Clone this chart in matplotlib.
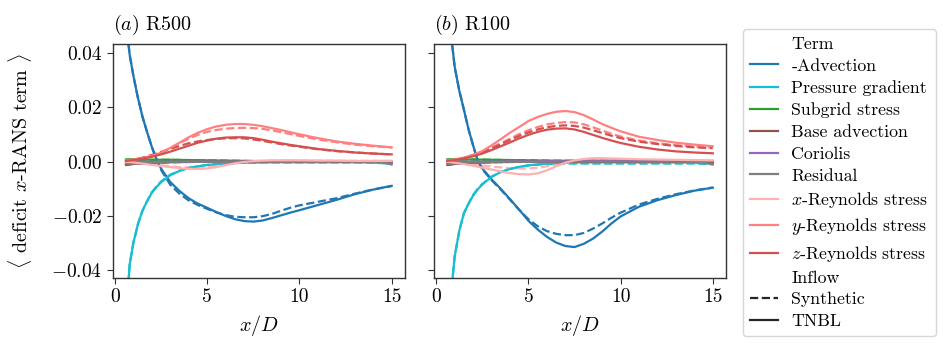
import matplotlib
matplotlib.use("Agg")
import matplotlib.pyplot as plt
from matplotlib.lines import Line2D
import numpy as np

plt.rcParams['font.family'] = ['cmr10', 'DejaVu Serif']
plt.rcParams['mathtext.fontset'] = 'cm'
plt.rcParams['axes.formatter.use_mathtext'] = True
plt.rcParams['axes.unicode_minus'] = True

# ---------------- data ----------------
X_STEEP = [0.6, 0.8, 1.0, 1.25, 1.5, 1.75, 2.0, 2.25, 2.5, 3, 3.5, 4, 4.5, 5, 5.5,
           6, 6.5, 7, 7.5, 8, 8.5, 9, 9.5, 10, 11, 12, 13, 14, 15]
X_MID = [0.6, 1, 1.5, 2, 2.5, 3, 3.5, 4, 4.5, 5, 5.5, 6, 6.5, 7, 7.5, 8, 8.5,
         9, 9.5, 10, 11, 12, 13, 14, 15]
X_FLAT = [0.6, 1, 2, 3, 4, 5, 6, 7, 8, 9, 10, 11, 12, 13, 14, 14.5, 15]

TERMS = ['-Advection', 'Pressure gradient', 'Subgrid stress', 'Base advection',
         'Coriolis', 'Residual', '$x$-Reynolds stress', '$y$-Reynolds stress',
         '$z$-Reynolds stress']
TERM_COLORS = ['#1f77b4', '#17becf', '#2ca02c', '#8c564b', '#9467bd', '#7f7f7f',
               '#ffb0b0', '#ff8080', '#d45050']
INFLOWS = ['Synthetic', 'TNBL']
PANELS = ['$(a)$ R500', '$(b)$ R100']

# R500 ---------------------------------------------------------------
R500_ADV_TNBL = [0.052, 0.0395, 0.0318, 0.0235, 0.0165, 0.0108, 0.0055, 0.001, -0.0025,
                 -0.0075, -0.0108, -0.0135, -0.0155, -0.0170, -0.0186, -0.0200, -0.0212,
                 -0.0219, -0.0221, -0.0217, -0.0208, -0.0198, -0.0188, -0.0179, -0.0160,
                 -0.0141, -0.0120, -0.0103, -0.0089]
R500_ADV_SYN = [0.052, 0.0395, 0.0318, 0.0235, 0.0165, 0.0108, 0.0055, 0.0008, -0.0030,
                -0.0085, -0.0118, -0.0143, -0.0160, -0.0174, -0.0187, -0.0197, -0.0203,
                -0.0205, -0.0205, -0.0201, -0.0193, -0.0181, -0.0170, -0.0161, -0.0148,
                -0.0135, -0.0118, -0.0102, -0.0090]
R500_PRE_TNBL = [-0.058, -0.038, -0.030, -0.023, -0.018, -0.0145, -0.0115, -0.0094, -0.0076,
                 -0.0050, -0.0034, -0.0023, -0.0017, -0.0012, -0.0009, -0.0007, -0.0005,
                 -0.0004, -0.0003, -0.0003, -0.0002, -0.0002, -0.0002, -0.0002, -0.0002,
                 -0.0002, -0.0002, -0.0003, -0.0006]
R500_PRE_SYN = [-0.058, -0.038, -0.030, -0.023, -0.018, -0.0145, -0.0113, -0.0092, -0.0073,
                -0.0048, -0.0033, -0.0023, -0.0017, -0.0012, -0.0009, -0.0007, -0.0005,
                -0.0004, -0.0004, -0.0003, -0.0003, -0.0003, -0.0003, -0.0003, -0.0003,
                -0.0003, -0.0003, -0.0004, -0.0007]
R500_YRS_TNBL = [0.0005, 0.0008, 0.0014, 0.0022, 0.0033, 0.0051, 0.0070, 0.0090, 0.0107,
                 0.0120, 0.0130, 0.0136, 0.0139, 0.0139, 0.0136, 0.0131, 0.0124, 0.0117,
                 0.0109, 0.0101, 0.0087, 0.0075, 0.0066, 0.0059, 0.0053]
R500_YRS_SYN = [0.0005, 0.0008, 0.0014, 0.0022, 0.0033, 0.0050, 0.0068, 0.0085, 0.0099,
                0.0110, 0.0117, 0.0122, 0.0124, 0.0125, 0.0124, 0.0121, 0.0116, 0.0109,
                0.0102, 0.0095, 0.0082, 0.0072, 0.0063, 0.0057, 0.0052]
R500_ZRS_TNBL = [0.0003, 0.0006, 0.0011, 0.0018, 0.0027, 0.0037, 0.0048, 0.0059, 0.0070,
                 0.0078, 0.0085, 0.0089, 0.0090, 0.0090, 0.0087, 0.0081, 0.0074, 0.0068,
                 0.0062, 0.0057, 0.0047, 0.0040, 0.0034, 0.0030, 0.0027]
R500_ZRS_SYN = [0.0003, 0.0007, 0.0015, 0.0025, 0.0036, 0.0047, 0.0058, 0.0068, 0.0075,
                0.0080, 0.0084, 0.0086, 0.0087, 0.0086, 0.0082, 0.0077, 0.0071, 0.0065,
                0.0060, 0.0055, 0.0046, 0.0039, 0.0034, 0.0030, 0.0027]
R500_XRS_TNBL = [0.0, -0.0003, -0.0007, -0.0012, -0.0016, -0.0020, -0.0024, -0.0026, -0.0027,
                 -0.0025, -0.0020, -0.0013, -0.0006, -0.0001, 0.0002, 0.0004, 0.0005, 0.0005,
                 0.0005, 0.0005, 0.0004, 0.0004, 0.0003, 0.0003, 0.0003]
R500_XRS_SYN = [0.0, -0.0002, -0.0005, -0.0009, -0.0013, -0.0017, -0.0020, -0.0022, -0.0022,
                -0.0019, -0.0014, -0.0008, -0.0003, 0.0000, 0.0002, 0.0003, 0.0004, 0.0004,
                0.0004, 0.0004, 0.0004, 0.0003, 0.0003, 0.0003, 0.0003]
R500_SGS = [0.0008, 0.0008, 0.0007, 0.0007, 0.0006, 0.0005, 0.0004, 0.0003, 0.0002, 0.0001,
            0.0001, 0.0001, 0.0000, 0.0000, 0.0000, 0.0000, 0.0000]
R500_BASE = [-0.0012, -0.0008, -0.0004, -0.0002, -0.0001, 0.0000, 0.0000, 0.0000, 0.0000,
             0.0000, 0.0000, 0.0000, 0.0000, 0.0000, 0.0000, 0.0000, -0.0001]
R500_COR = [0.0, 0.0, 0.0, 0.0, 0.0, 0.0, 0.0, 0.0001, 0.0001, 0.0001, 0.0001, 0.0001,
            0.0001, 0.0001, 0.0001, 0.0001, 0.0001]
R500_RES = [-0.0008, -0.0006, -0.0003, -0.0001, 0.0000, 0.0000, 0.0000, 0.0000, 0.0000,
            0.0000, 0.0000, 0.0000, 0.0000, 0.0000, -0.0001, -0.0002, -0.0010]

# R100 ---------------------------------------------------------------
R100_ADV_TNBL = [0.068, 0.047, 0.035, 0.0262, 0.0192, 0.0120, 0.0060, 0.0005, -0.0025,
                 -0.0065, -0.0100, -0.0138, -0.0177, -0.0218, -0.0250, -0.0277, -0.0298,
                 -0.0311, -0.0315, -0.0303, -0.0284, -0.0258, -0.0228, -0.0202, -0.0166,
                 -0.0142, -0.0123, -0.0107, -0.0096]
R100_ADV_SYN = [0.068, 0.047, 0.035, 0.0262, 0.0192, 0.0120, 0.0060, 0.0003, -0.0028,
                -0.0068, -0.0103, -0.0140, -0.0178, -0.0212, -0.0238, -0.0256, -0.0266,
                -0.0271, -0.0271, -0.0263, -0.0247, -0.0228, -0.0207, -0.0188, -0.0158,
                -0.0137, -0.0120, -0.0106, -0.0095]
R100_PRE_TNBL = [-0.075, -0.049, -0.035, -0.0255, -0.019, -0.0155, -0.0125, -0.0102, -0.0084,
                 -0.0056, -0.0038, -0.0027, -0.0019, -0.0013, -0.0010, -0.0007, -0.0005,
                 -0.0004, -0.0003, -0.0003, -0.0003, -0.0003, -0.0003, -0.0003, -0.0003,
                 -0.0003, -0.0003, -0.0004, -0.0006]
R100_PRE_SYN = [-0.075, -0.049, -0.035, -0.0255, -0.019, -0.0155, -0.0123, -0.0100, -0.0082,
                -0.0055, -0.0038, -0.0027, -0.0019, -0.0014, -0.0011, -0.0009, -0.0008,
                -0.0007, -0.0007, -0.0007, -0.0007, -0.0007, -0.0007, -0.0007, -0.0007,
                -0.0007, -0.0007, -0.0007, -0.0009]
R100_YRS_TNBL = [0.0005, 0.0008, 0.0015, 0.0026, 0.0039, 0.0060, 0.0083, 0.0107, 0.0128,
                 0.0150, 0.0165, 0.0176, 0.0184, 0.0187, 0.0183, 0.0172, 0.0156, 0.0139,
                 0.0125, 0.0112, 0.0092, 0.0080, 0.0070, 0.0063, 0.0057]
R100_YRS_SYN = [0.0005, 0.0008, 0.0014, 0.0024, 0.0036, 0.0052, 0.0068, 0.0085, 0.0102,
                0.0116, 0.0128, 0.0137, 0.0143, 0.0146, 0.0145, 0.0138, 0.0127, 0.0115,
                0.0103, 0.0093, 0.0078, 0.0068, 0.0061, 0.0056, 0.0052]
R100_ZRS_TNBL = [0.0003, 0.0006, 0.0012, 0.0020, 0.0030, 0.0043, 0.0057, 0.0071, 0.0086,
                 0.0099, 0.0110, 0.0118, 0.0122, 0.0123, 0.0119, 0.0110, 0.0099, 0.0088,
                 0.0078, 0.0069, 0.0055, 0.0045, 0.0038, 0.0034, 0.0031]
R100_ZRS_SYN = [0.0004, 0.0007, 0.0013, 0.0023, 0.0034, 0.0049, 0.0064, 0.0080, 0.0095,
                0.0108, 0.0119, 0.0127, 0.0132, 0.0134, 0.0132, 0.0126, 0.0116, 0.0106,
                0.0096, 0.0087, 0.0074, 0.0065, 0.0058, 0.0053, 0.0050]
R100_XRS_TNBL = [0.0, -0.0004, -0.0009, -0.0015, -0.0022, -0.0029, -0.0036, -0.0042, -0.0046,
                 -0.0047, -0.0043, -0.0032, -0.0017, -0.0004, 0.0005, 0.0010, 0.0013, 0.0013,
                 0.0012, 0.0011, 0.0009, 0.0008, 0.0007, 0.0006, 0.0005]
R100_XRS_SYN = [0.0, -0.0002, -0.0006, -0.0010, -0.0014, -0.0018, -0.0021, -0.0024, -0.0025,
                -0.0025, -0.0022, -0.0017, -0.0010, -0.0004, 0.0000, 0.0004, 0.0005, 0.0006,
                0.0006, 0.0006, 0.0005, 0.0005, 0.0004, 0.0004, 0.0004]
R100_SGS = [0.0008, 0.0008, 0.0008, 0.0007, 0.0006, 0.0005, 0.0004, 0.0003, 0.0002, 0.0002,
            0.0001, 0.0001, 0.0001, 0.0000, 0.0000, 0.0000, 0.0000]
R100_BASE = [-0.0012, -0.0008, -0.0004, -0.0002, -0.0001, 0.0000, 0.0000, 0.0000, 0.0000,
             0.0000, 0.0000, 0.0000, 0.0000, 0.0000, 0.0000, 0.0000, -0.0001]
R100_COR = [0.0, 0.0, 0.0, 0.0, 0.0001, 0.0001, 0.0002, 0.0003, 0.0004, 0.0004, 0.0004,
            0.0003, 0.0003, 0.0003, 0.0002, 0.0002, 0.0002]
R100_RES = [-0.0008, -0.0006, -0.0003, -0.0001, 0.0000, 0.0000, 0.0000, 0.0000, 0.0000,
            0.0000, 0.0000, 0.0000, 0.0000, 0.0000, -0.0001, -0.0002, -0.0010]

R500 = {
    'Synthetic': [(X_STEEP, R500_ADV_SYN), (X_STEEP, R500_PRE_SYN), (X_FLAT, R500_SGS),
                  (X_FLAT, R500_BASE), (X_FLAT, R500_COR), (X_FLAT, R500_RES),
                  (X_MID, R500_XRS_SYN), (X_MID, R500_YRS_SYN), (X_MID, R500_ZRS_SYN)],
    'TNBL': [(X_STEEP, R500_ADV_TNBL), (X_STEEP, R500_PRE_TNBL), (X_FLAT, R500_SGS),
             (X_FLAT, R500_BASE), (X_FLAT, R500_COR), (X_FLAT, R500_RES),
             (X_MID, R500_XRS_TNBL), (X_MID, R500_YRS_TNBL), (X_MID, R500_ZRS_TNBL)],
}
R100 = {
    'Synthetic': [(X_STEEP, R100_ADV_SYN), (X_STEEP, R100_PRE_SYN), (X_FLAT, R100_SGS),
                  (X_FLAT, R100_BASE), (X_FLAT, R100_COR), (X_FLAT, R100_RES),
                  (X_MID, R100_XRS_SYN), (X_MID, R100_YRS_SYN), (X_MID, R100_ZRS_SYN)],
    'TNBL': [(X_STEEP, R100_ADV_TNBL), (X_STEEP, R100_PRE_TNBL), (X_FLAT, R100_SGS),
             (X_FLAT, R100_BASE), (X_FLAT, R100_COR), (X_FLAT, R100_RES),
             (X_MID, R100_XRS_TNBL), (X_MID, R100_YRS_TNBL), (X_MID, R100_ZRS_TNBL)],
}

# ---------------- figure ----------------
fig = plt.figure(figsize=(9.46, 3.56), dpi=100)
ax1 = fig.add_axes([0.1191, 0.2199, 0.3090, 0.6556])
ax2 = fig.add_axes([0.4588, 0.2199, 0.3087, 0.6556], sharey=ax1)

styles = {'Synthetic': '--', 'TNBL': '-'}
for ax, data, title in [(ax1, R500, PANELS[0]), (ax2, R100, PANELS[1])]:
    for inflow in INFLOWS:
        for i in range(len(TERMS)):
            xs, ys = data[inflow][i]
            ax.plot(xs, ys, color=TERM_COLORS[i], ls=styles[inflow], lw=1.6,
                    zorder=2 + (0.1 if inflow == 'TNBL' else 0))
    ax.set_xlim(-0.12, 15.72)
    ax.set_ylim(-0.0428, 0.0433)
    ax.set_xticks([0, 5, 10, 15])
    ax.set_yticks([-0.04, -0.02, 0.0, 0.02, 0.04])
    ax.set_xlabel('$x/D$', fontsize=14.5, labelpad=5)
    ax.set_title(title, loc='left', fontsize=14.5, pad=10)
    for s in ax.spines.values():
        s.set_color('0.2')
        s.set_linewidth(1.0)
    ax.tick_params(labelsize=14, color='0.2', length=4)

ax1.yaxis.set_major_formatter(matplotlib.ticker.FuncFormatter(
    lambda v, p: ('$-$' if v < -1e-12 else '') + '%.2f' % abs(v)))
ax1.xaxis.set_major_formatter(matplotlib.ticker.FuncFormatter(lambda v, p: '%d' % v))
ax2.xaxis.set_major_formatter(matplotlib.ticker.FuncFormatter(lambda v, p: '%d' % v))
plt.setp(ax2.get_yticklabels(), visible=False)
ax1.set_ylabel(r'$\langle$ deficit $x$-RANS term $\rangle$', fontsize=14.5, labelpad=12)

handles = [Line2D([], [], color='none')]
labels = ['Term']
for c, t in zip(TERM_COLORS, TERMS):
    handles.append(Line2D([], [], color=c, lw=1.6))
    labels.append(t)
handles.append(Line2D([], [], color='none'))
labels.append('Inflow')
for inflow in INFLOWS:
    handles.append(Line2D([], [], color='0.15', ls=styles[inflow], lw=1.6))
    labels.append(inflow)

fig.legend(handles, labels, loc='upper left', bbox_to_anchor=(0.785, 0.918),
           bbox_transform=fig.transFigure, fontsize=12.8, frameon=True,
           borderaxespad=0, handlelength=1.6, labelspacing=0.36, handletextpad=0.75)

fig.savefig('out.png', dpi=100)
